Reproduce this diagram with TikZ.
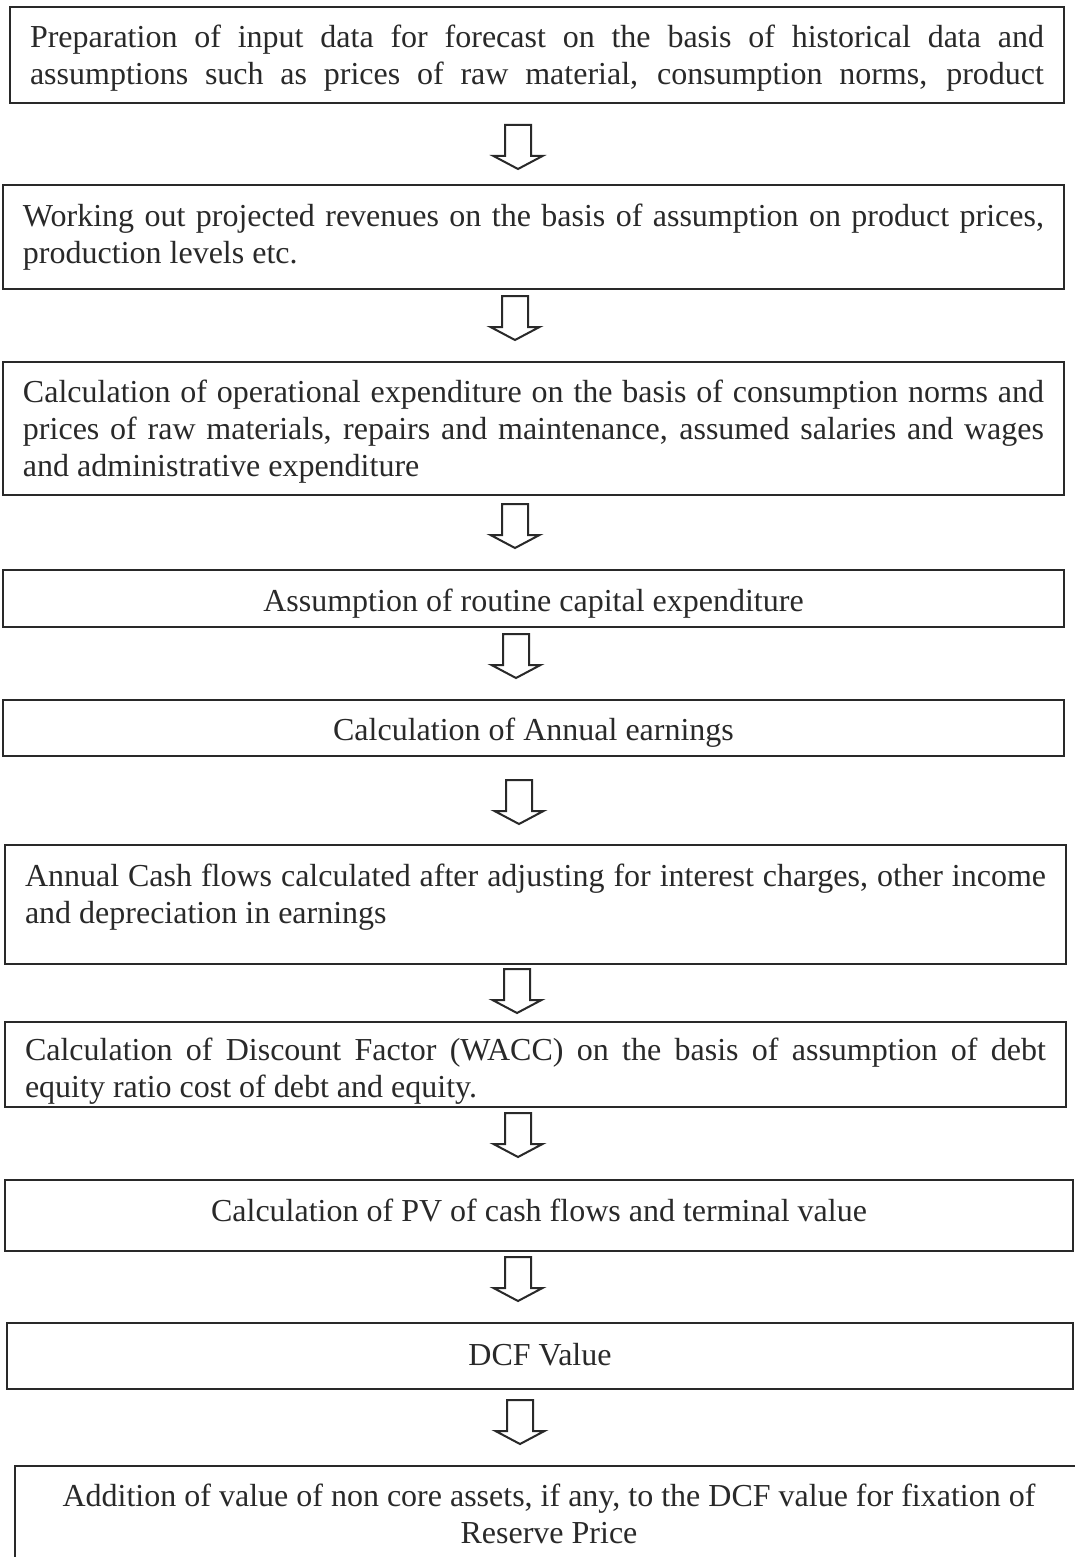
\documentclass[tikz,border=0pt]{standalone}
\usepackage{fontspec}
\setmainfont{Liberation Serif}
\definecolor{ink}{rgb}{0.16,0.16,0.16}
\begin{document}
\begin{tikzpicture}[x=1pt,y=-1pt,
  box/.style={draw=ink, line width=2pt, inner sep=0pt},
  txt/.style={text=ink, font=\fontsize{32}{37}\selectfont, inner sep=0pt, align=justify},
  hollowarrow/.pic={\draw[ink, line width=2pt, line join=miter]
    (-13,0) -- (13,0) -- (13,31) -- (24.5,31) -- (0,44) -- (-24.5,31) -- (-13,31) -- cycle;}
]
\clip (0,0) rectangle (1075,1557);
\fill[white] (0,0) rectangle (1075,1557);

% boxes
\node[box, minimum width=1054pt, minimum height=96pt]  (b1) at (537,55) {};
\node[box, minimum width=1061pt, minimum height=104pt] (b2) at (533.5,237) {};
\node[box, minimum width=1061pt, minimum height=133pt] (b3) at (533.5,428.5) {};
\node[box, minimum width=1061pt, minimum height=57pt]  (b4) at (533.5,598.5) {};
\node[box, minimum width=1061pt, minimum height=56pt]  (b5) at (533.5,728) {};
\node[box, minimum width=1061pt, minimum height=119pt] (b6) at (535.5,904.5) {};
\node[box, minimum width=1061pt, minimum height=85pt]  (b7) at (535.5,1064.5) {};
\node[box, minimum width=1068pt, minimum height=71pt]  (b8) at (539,1215.5) {};
\node[box, minimum width=1066pt, minimum height=66pt]  (b9) at (540,1356) {};
\node[box, minimum width=1070pt, minimum height=135pt, anchor=north west] (b10) at (14,1465) {};

% texts
\node[txt, text width=1014pt, yshift=-3pt] (t1) at (b1.center)
  {Preparation of input data for forecast on the basis of historical data and\linebreak
   assumptions such as prices of raw material, consumption norms, product\parfillskip=0pt\par};
\node[txt, text width=1021pt] (t2) at (b2.center)
  {Working out projected revenues on the basis of assumption on product prices,\linebreak
   production levels etc.};
\node[txt, text width=1021pt, yshift=-3pt] (t3) at (b3.center)
  {Calculation of operational expenditure on the basis of consumption norms and\linebreak
   prices of raw materials, repairs and maintenance, assumed salaries and wages\linebreak
   and administrative expenditure};
\node[txt, align=center, yshift=-5pt] (t4) at (b4.center)
  {Assumption of routine capital expenditure};
\node[txt, align=center, yshift=-5pt] (t5) at (b5.center)
  {Calculation of Annual earnings};
\node[txt, text width=1021pt, yshift=7.5pt] (t6) at (b6.center)
  {Annual Cash flows calculated after adjusting for interest charges, other income\linebreak
   and depreciation in earnings};
\node[txt, text width=1021pt, yshift=-7pt] (t7) at (b7.center)
  {Calculation of Discount Factor (WACC) on the basis of assumption of debt\linebreak
   equity ratio cost of debt and equity.};
\node[txt, align=center, yshift=5pt] (t8) at (b8.center)
  {Calculation of PV of cash flows and terminal value};
\node[txt, align=center, yshift=1pt] (t9) at (b9.center)
  {DCF Value};
\node[txt, align=center] (t10) at (549,1514)
  {Addition of value of non core assets, if any, to the DCF value for fixation of\\
   Reserve Price};

% arrows
\pic at (518,125) {hollowarrow};
\pic at (515,296) {hollowarrow};
\pic at (515,504) {hollowarrow};
\pic at (516,634) {hollowarrow};
\pic at (519,780) {hollowarrow};
\pic at (517,969) {hollowarrow};
\pic at (518,1113) {hollowarrow};
\pic at (518,1257) {hollowarrow};
\pic at (520,1400) {hollowarrow};
\end{tikzpicture}
\end{document}
